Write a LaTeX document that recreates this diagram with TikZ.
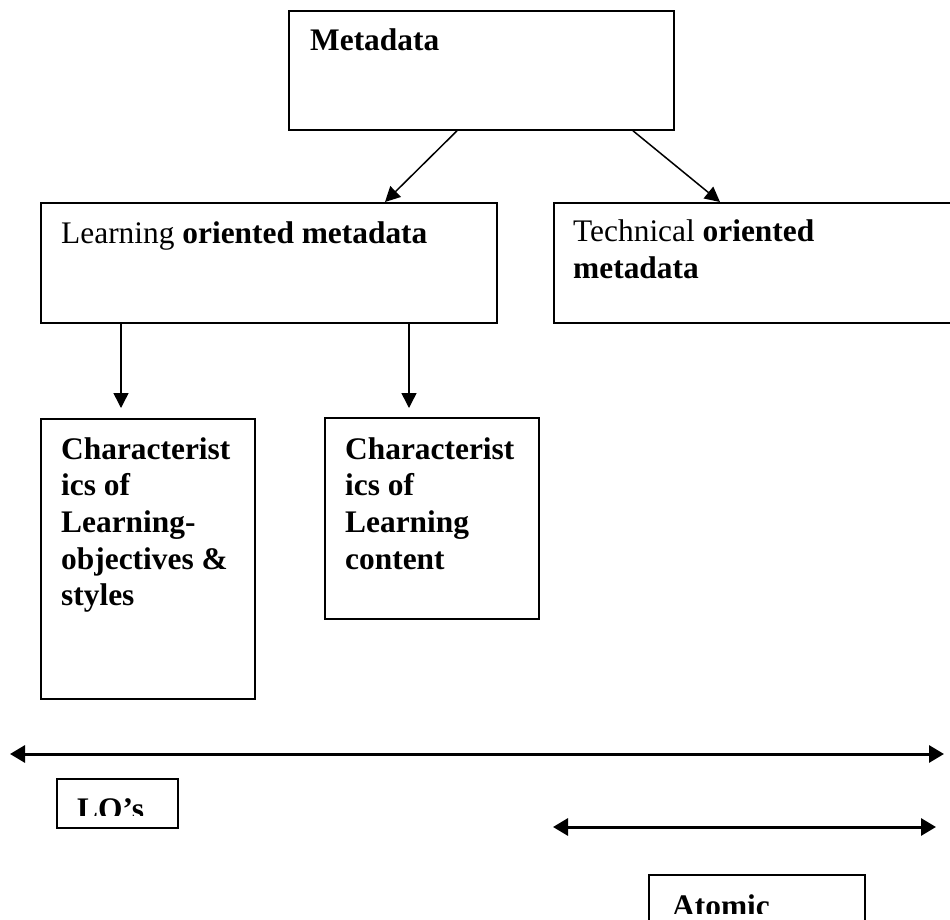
\documentclass[tikz,border=0pt]{standalone}
\usepackage{fontspec}
\setmainfont{Liberation Serif}
\usetikzlibrary{arrows.meta}
\tikzset{
  box/.style={draw, line width=1.8pt, rectangle, inner sep=0pt, anchor=north west},
  txt/.style={anchor=base west, inner sep=0pt, align=left,
              font=\fontsize{31.4}{36.7}\selectfont},
  link/.style={line width=1.5pt, -{Triangle[length=15pt,width=15pt]}},
  span/.style={line width=3pt, {Triangle[length=15pt,width=17pt]}-{Triangle[length=15pt,width=17pt]}}
}
\begin{document}
\begin{tikzpicture}[x=1pt, y=-1pt]
  \clip (0,0) rectangle (950,919);
  \fill[white] (0,0) rectangle (950,919);

  % boxes
  \node[box, minimum width=385pt, minimum height=119pt] (meta)  at (288,10)  {};
  \node[box, minimum width=456pt, minimum height=120pt] (learn) at (40,202)  {};
  \node[box, minimum width=402pt, minimum height=120pt] (tech)  at (553,202) {};
  \node[box, minimum width=214pt, minimum height=280pt] (char1) at (40,418)  {};
  \node[box, minimum width=214pt, minimum height=201pt] (char2) at (324,417) {};
  \node[box, minimum width=121pt, minimum height=49pt]  (lo)    at (56,778)  {};
  \node[box, minimum width=216pt, minimum height=60pt]  (atom)  at (648,874) {};

  % labels (multi-line labels are placed by the baseline of their last line)
  \node[txt] (tmeta)  at (310,50)  {\textbf{Metadata}};
  \node[txt] (tlearn) at (61,243)  {Learning \textbf{oriented metadata}};
  \node[txt] (ttech)  at (573,278) {Technical \textbf{oriented}\\\textbf{metadata}};
  \node[txt] (tchar1) at (61,605.8) {\textbf{Characterist}\\\textbf{ics of}\\\textbf{Learning-}\\\textbf{objectives \&}\\\textbf{styles}};
  \node[txt] (tchar2) at (345,569.1) {\textbf{Characterist}\\\textbf{ics of}\\\textbf{Learning}\\\textbf{content}};
  \begin{scope}
    \clip (56,778) rectangle (177,815);
    \node[txt] (tlo) at (77,819) {\textbf{LO’s}};
  \end{scope}
  \begin{scope}
    \clip (648,874) rectangle (864,913);
    \node[txt] (tatom) at (672,916) {\textbf{Atomic}};
  \end{scope}

  % connectors
  \draw[link] ([xshift=169pt]meta.south west) -- ([xshift=345pt]learn.north west);
  \draw[link] ([xshift=345pt]meta.south west) -- ([xshift=167pt]tech.north west);
  \draw[link] ([xshift=81pt]learn.south west)  -- ([xshift=81pt,yshift=10pt]char1.north west);
  \draw[link] ([xshift=369pt]learn.south west) -- ([xshift=85pt,yshift=9pt]char2.north west);

  % range arrows
  \coordinate (l1) at (10,754);
  \coordinate (r1) at (944,754);
  \coordinate (l2) at (553,827);
  \coordinate (r2) at (936,827);
  \draw[span] (l1) -- (r1);
  \draw[span] (l2) -- (r2);
\end{tikzpicture}
\end{document}
